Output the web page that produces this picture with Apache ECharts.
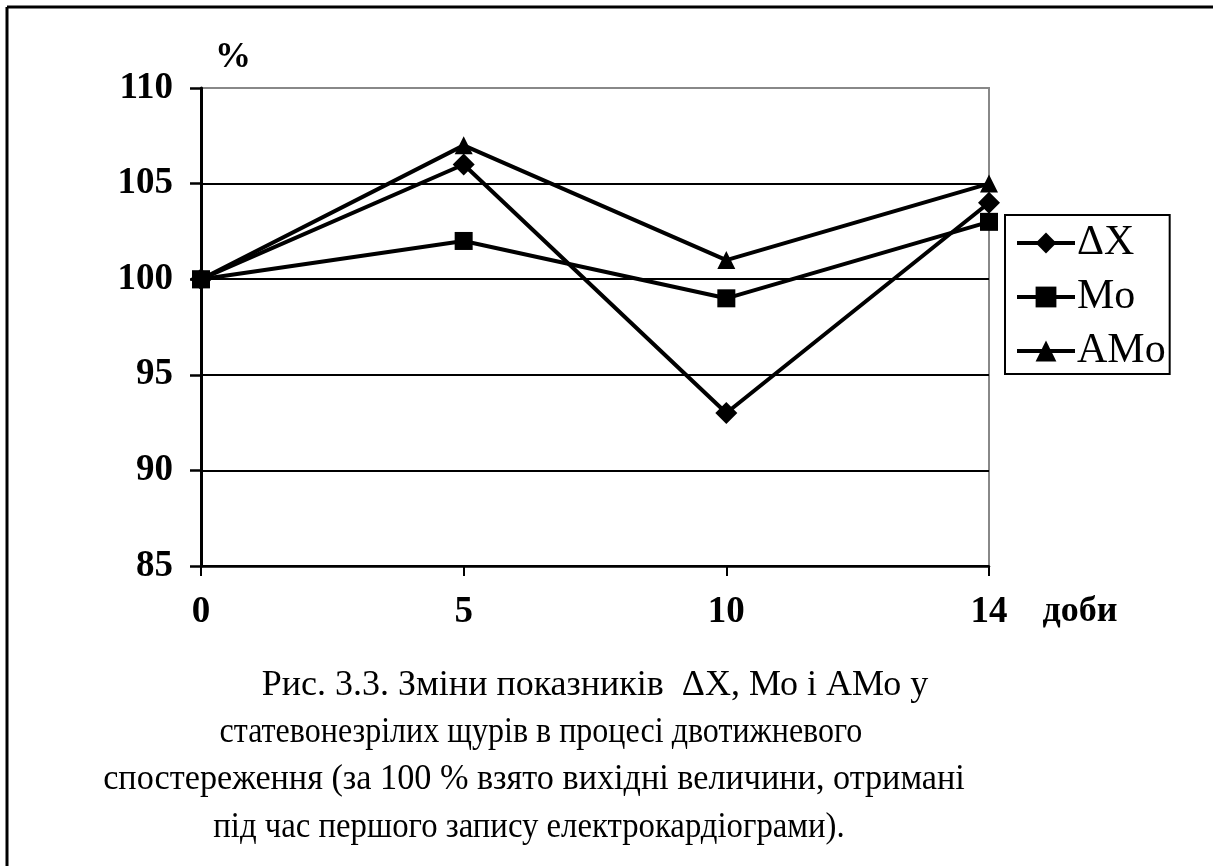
<!DOCTYPE html>
<html>
<head>
<meta charset="utf-8">
<script src="https://cdn.jsdelivr.net/npm/echarts@6/dist/echarts.min.js"></script>
<style>
  html, body { margin: 0; padding: 0; background: #fff; }
  #chart { width: 1213px; height: 866px; }
</style>
</head>
<body>
<div id="chart"></div>
<script>
// Days of observation
const days = ['0', '5', '10', '14'];
// Indicator values, % of the first ECG recording
const deltaX = [100, 106, 93, 104];
const mo = [100, 102, 99, 103];
const amo = [100, 107, 101, 105];
// Series names
const seriesNames = ['ΔX', 'Mo', 'AMo'];
// Caption lines
const captionLines = [
  'Рис. 3.3. Зміни показників  ΔХ, Мо і АМо у',
  'статевонезрілих щурів в процесі двотижневого',
  'спостереження (за 100 % взято вихідні величини, отримані',
  'під час першого запису електрокардіограми).'
];
const yUnit = '%';
const xUnit = 'доби';

const serif = "'Liberation Serif', 'Times New Roman', serif";
const captionCenters = [595, 541, 534, 529];
const captionY = [686, 733, 780, 828];
const captionSqueeze = [1.0, 0.89, 0.95, 0.91];

const chart = echarts.init(document.getElementById('chart'), null, { renderer: 'canvas' });

function lineSeries(name, data, symbol, size) {
  return {
    name: name,
    type: 'line',
    data: data,
    symbol: symbol,
    symbolSize: size,
    showAllSymbol: true,
    lineStyle: { color: '#000', width: 4 },
    itemStyle: { color: '#000' },
    emphasis: { disabled: true },
    animation: false,
    z: 5
  };
}

const graphics = [
  { type: 'line', shape: { x1: 7, y1: 7, x2: 1213, y2: 7 }, style: { stroke: '#000', lineWidth: 3 } },
  { type: 'line', shape: { x1: 7, y1: 7, x2: 7, y2: 866 }, style: { stroke: '#000', lineWidth: 3 } },
  { type: 'text', x: 233, y: 58, style: { text: yUnit, font: 'bold 36px ' + serif, fill: '#000', textAlign: 'center', textVerticalAlign: 'middle' } },
  { type: 'text', x: 1080, y: 612, style: { text: xUnit, font: 'bold 36px ' + serif, fill: '#000', textAlign: 'center', textVerticalAlign: 'middle' } }
];
captionLines.forEach(function (t, i) {
  graphics.push({
    type: 'text', x: captionCenters[i], y: captionY[i], scaleX: captionSqueeze[i],
    style: { text: t, font: '36px ' + serif, fill: '#000', textAlign: 'center', textVerticalAlign: 'middle' }
  });
});

chart.setOption({
  backgroundColor: '#fff',
  animation: false,
  grid: {
    left: 201, right: 224, top: 88, bottom: 300,
    show: true, borderColor: '#888', borderWidth: 2, backgroundColor: 'transparent'
  },
  legend: {
    orient: 'vertical',
    left: 1005, top: 215,
    padding: [7, 4, 2, 10],
    itemWidth: 58, itemHeight: 26, itemGap: 12,
    borderColor: '#000', borderWidth: 2,
    lineStyle: { width: 4, color: '#000' },
    itemStyle: { color: '#000' },
    textStyle: { fontFamily: serif, fontSize: 42, color: '#000', lineHeight: 42, padding: [0, 0, 0, -3] },
    data: seriesNames,
    selectedMode: false
  },
  xAxis: {
    type: 'category',
    data: days,
    boundaryGap: false,
    axisLine: { lineStyle: { color: '#000', width: 2.5 } },
    axisTick: { show: true, length: 10, alignWithLabel: true, lineStyle: { color: '#000', width: 2 } },
    axisLabel: { color: '#000', fontFamily: serif, fontWeight: 'bold', fontSize: 37, margin: 28 },
    splitLine: { show: false }
  },
  yAxis: {
    type: 'value',
    min: 85, max: 110, interval: 5,
    axisLine: { show: true, lineStyle: { color: '#000', width: 3 } },
    axisTick: { show: true, length: 11, lineStyle: { color: '#000', width: 2.5 } },
    axisLabel: { color: '#000', fontFamily: serif, fontWeight: 'bold', fontSize: 37, margin: 28 },
    splitLine: { show: true, showMaxLine: false, lineStyle: { color: '#000', width: 2 } }
  },
  graphic: graphics,
  series: [
    lineSeries(seriesNames[0], deltaX, 'diamond', 22),
    lineSeries(seriesNames[1], mo, 'rect', 18),
    lineSeries(seriesNames[2], amo, 'triangle', 18)
  ]
});
</script>
</body>
</html>
